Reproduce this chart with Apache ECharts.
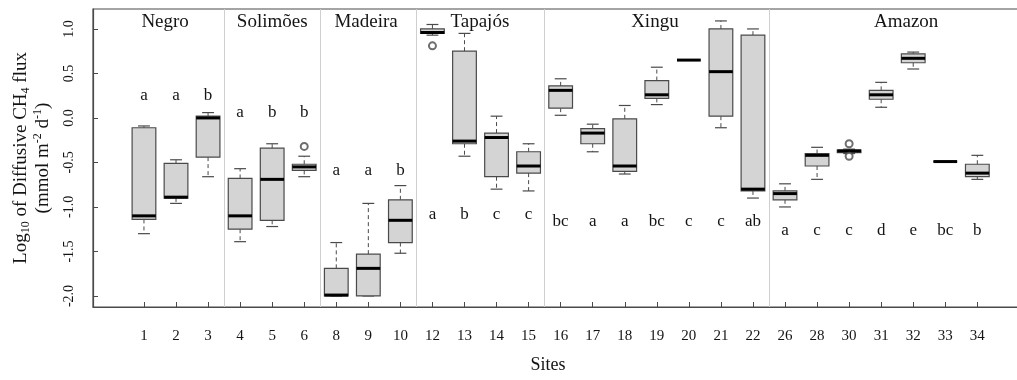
<!DOCTYPE html>
<html>
<head>
<meta charset="utf-8">
<script src="https://cdn.jsdelivr.net/npm/echarts@6/dist/echarts.min.js"></script>
<style>
  html, body { margin: 0; padding: 0; background: #fff; }
  #chart { width: 1017px; height: 380px; }
</style>
</head>
<body>
<div id="chart"></div>
<script>
// Sampling sites, in plotting order
const sites = ['1','2','3','4','5','6','8','9','10','12','13','14','15','16','17','18','19','20','21','22','26','28','30','31','32','33','34'];

// Five-number summaries of log10 diffusive CH4 flux per site
const whiskerLow    = [-1.30, -0.96, -0.66, -1.39, -1.22, -0.66, -2.00, -2.00, -1.52,  0.93, -0.43, -0.80, -0.82,  0.03, -0.38, -0.63,  0.15, 0.65, -0.11, -0.90, -1.00, -0.69, -0.40,  0.12,  0.55, -0.49, -0.69];
const lowerQuartile = [-1.14, -0.90, -0.44, -1.25, -1.15, -0.59, -2.00, -2.00, -1.40,  0.95, -0.29, -0.66, -0.62,  0.11, -0.29, -0.60,  0.22, 0.65,  0.02, -0.82, -0.92, -0.54, -0.39,  0.21,  0.62, -0.49, -0.66];
const median        = [-1.10, -0.89,  0.00, -1.10, -0.69, -0.55, -1.99, -1.69, -1.15,  0.96, -0.26, -0.22, -0.54,  0.31, -0.17, -0.54,  0.26, 0.65,  0.52, -0.80, -0.85, -0.42, -0.37,  0.26,  0.67, -0.49, -0.62];
const upperQuartile = [-0.11, -0.51,  0.02, -0.68, -0.34, -0.52, -1.69, -1.53, -0.92,  1.00,  0.75, -0.17, -0.38,  0.36, -0.12, -0.01,  0.42, 0.65,  1.00,  0.93, -0.82, -0.40, -0.36,  0.31,  0.72, -0.49, -0.52];
const whiskerHigh   = [-0.09, -0.47,  0.06, -0.57, -0.29, -0.43, -1.40, -0.96, -0.76,  1.05,  0.95,  0.02, -0.29,  0.44, -0.07,  0.14,  0.57, 0.65,  1.09,  1.00, -0.74, -0.33, -0.35,  0.40,  0.74, -0.49, -0.42];

// Outlying observations
const outlierSites  = ['6', '12', '30', '30'];
const outlierValues = [-0.32, 0.81, -0.29, -0.43];

// Post-hoc grouping letters per site
const letters = ['a','a','b','a','b','b','a','a','b','a','b','c','c','bc','a','a','bc','c','c','ab','a','c','c','d','e','bc','b'];

// Rivers and the number of sites each one holds
const rivers     = ['Negro', 'Solimões', 'Madeira', 'Tapajós', 'Xingu', 'Amazon'];
const riverSizes = [3, 3, 3, 4, 7, 7];

// Height (log10 units) at which each river's letters are written
const letterLevel = [0.25, 0.06, -0.59, -1.08, -1.16, -1.26];

// Y tick values
const yTicks = [-2, -1.5, -1, -0.5, 0, 0.5, 1];

// ---- layout helpers ----
const FONT = '"Liberation Serif", "Times New Roman", serif';
const INK = '#141414';
const FRAME = '#4a4a4a';

// Site k sits at x = k + 1 on the axis
const sitePos = sites.map((s, i) => i + 1);

// River of every site and the boundaries between rivers
const riverOfSite = [];
const boundaries = [];
let acc = 0;
riverSizes.forEach((n, r) => {
  for (let j = 0; j < n; j++) riverOfSite.push(r);
  acc += n;
  if (r < riverSizes.length - 1) boundaries.push(acc + 0.5);
});

// River titles placed over their sites (axis units)
const riverTitleX = [1.66, 5, 7.93, 11.48, 16.94, 24.78];
const riverTitleY = 1.082;

const boxData = sites.map((s, i) => [sitePos[i], whiskerLow[i], lowerQuartile[i], median[i], upperQuartile[i], whiskerHigh[i]]);
const outlierData = outlierSites.map((s, k) => [sites.indexOf(s) + 1, outlierValues[k]]);
const letterData = letters.map((t, i) => [sitePos[i], letterLevel[riverOfSite[i]]]);
const titleData = rivers.map((r, i) => [riverTitleX[i], riverTitleY]);

function renderBox(params, api) {
  const x = api.value(0);
  const lo = api.coord([x, api.value(1)]);
  const q1 = api.coord([x, api.value(2)]);
  const md = api.coord([x, api.value(3)]);
  const q3 = api.coord([x, api.value(4)]);
  const hi = api.coord([x, api.value(5)]);
  const unit = api.size([1, 0])[0];
  const bw = unit * 0.74;
  const cw = bw * 0.5;
  const cx = md[0];
  const dashed = { stroke: FRAME, lineWidth: 1, lineDash: [4, 3] };
  const solid = { stroke: FRAME, lineWidth: 1.2 };
  return {
    type: 'group',
    children: [
      { type: 'line', shape: { x1: cx, y1: q3[1], x2: cx, y2: hi[1] }, style: dashed },
      { type: 'line', shape: { x1: cx, y1: q1[1], x2: cx, y2: lo[1] }, style: dashed },
      { type: 'line', shape: { x1: cx - cw / 2, y1: hi[1], x2: cx + cw / 2, y2: hi[1] }, style: solid },
      { type: 'line', shape: { x1: cx - cw / 2, y1: lo[1], x2: cx + cw / 2, y2: lo[1] }, style: solid },
      { type: 'rect', shape: { x: cx - bw / 2, y: q3[1], width: bw, height: q1[1] - q3[1] },
        style: { fill: '#d4d4d4', stroke: FRAME, lineWidth: 1.2 } },
      { type: 'line', shape: { x1: cx - bw / 2, y1: md[1], x2: cx + bw / 2, y2: md[1] },
        style: { stroke: '#000', lineWidth: 3 } }
    ]
  };
}

function textRenderer(texts, size) {
  return function (params, api) {
    const p = api.coord([api.value(0), api.value(1)]);
    return {
      type: 'text',
      x: p[0], y: p[1],
      style: {
        text: texts[params.dataIndex],
        fontFamily: FONT, fontSize: size, fill: INK,
        align: 'center', verticalAlign: 'middle'
      }
    };
  };
}

const chart = echarts.init(document.getElementById('chart'), null, { renderer: 'canvas' });

chart.setOption({
  animation: false,
  backgroundColor: '#fff',
  grid: {
    left: 93, right: -2, top: 9, bottom: 73,
    show: true, borderColor: FRAME, borderWidth: 1.2,
    containLabel: false, outerBoundsMode: 'none'
  },
  xAxis: {
    type: 'value',
    min: -0.59, max: 28.3,
    splitLine: { show: false },
    axisLine: { show: true, onZero: false, lineStyle: { color: FRAME, width: 1.2 } },
    axisTick: { show: true, inside: true, length: 5, customValues: sitePos, lineStyle: { color: FRAME } },
    axisLabel: {
      customValues: sitePos,
      formatter: v => sites[Math.round(v) - 1],
      margin: 22, fontFamily: FONT, fontSize: 15, color: INK
    },
    name: 'Sites',
    nameLocation: 'middle',
    nameGap: 49,
    nameTextStyle: { fontFamily: FONT, fontSize: 18, color: INK, padding: [0, 16, 0, 0] }
  },
  yAxis: {
    type: 'value',
    min: -2.124, max: 1.224,
    splitLine: { show: false },
    axisLine: { show: true, onZero: false, lineStyle: { color: FRAME, width: 1.2 } },
    axisTick: { show: true, inside: true, length: 5, customValues: yTicks, lineStyle: { color: FRAME } },
    axisLabel: {
      customValues: yTicks,
      formatter: v => v.toFixed(1),
      rotate: 90, margin: 17,
      fontFamily: FONT, fontSize: 14, color: INK
    },
    name: '{n|Log}{s|10}{n| of Diffusive CH}{s|4}{n| flux}\n{n|(mmol m}{p|-2}{n| d}{p|-1}{n|)}',
    nameLocation: 'middle',
    nameRotate: 90,
    nameGap: 34,
    nameTextStyle: {
      fontFamily: FONT, fontSize: 19, color: INK, lineHeight: 22, align: 'center',
      rich: {
        n: { fontFamily: FONT, fontSize: 19, color: INK, lineHeight: 22 },
        s: { fontFamily: FONT, fontSize: 12, color: INK, lineHeight: 22, verticalAlign: 'bottom' },
        p: { fontFamily: FONT, fontSize: 12, color: INK, lineHeight: 22, verticalAlign: 'top' }
      }
    }
  },
  series: [
    {
      // river separators
      type: 'scatter',
      data: [],
      silent: true,
      markLine: {
        silent: true,
        symbol: ['none', 'none'],
        label: { show: false },
        lineStyle: { color: '#cfcfcf', width: 1, type: 'solid' },
        data: boundaries.map(b => ({ xAxis: b }))
      }
    },
    {
      type: 'custom',
      renderItem: renderBox,
      data: boxData,
      encode: { x: 0, y: [1, 2, 3, 4, 5] },
      z: 3
    },
    {
      type: 'scatter',
      data: outlierData,
      symbol: 'emptyCircle',
      symbolSize: 7,
      itemStyle: { color: FRAME, borderWidth: 1.1 },
      z: 4
    },
    {
      type: 'custom',
      renderItem: textRenderer(letters, 17),
      data: letterData,
      z: 4
    },
    {
      type: 'custom',
      renderItem: textRenderer(rivers, 19),
      data: titleData,
      z: 4
    }
  ]
});
</script>
</body>
</html>
